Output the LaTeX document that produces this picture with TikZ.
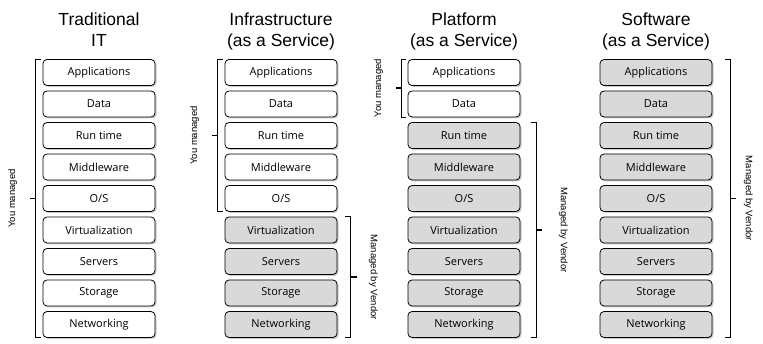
\documentclass[tikz,border=0pt]{standalone}
\usepackage{fontspec}
\setmainfont{Liberation Sans}
\newfontfamily\boxfont{Open Sans}
\usetikzlibrary{shadows,calc}
\definecolor{vgray}{RGB}{217,217,217}
\begin{document}
\begin{tikzpicture}[x=1pt,y=-1pt,
  layer/.style={draw=black, line width=0.8pt, rounded corners=4pt,
    minimum width=112pt, minimum height=26pt, inner sep=0pt,
    font=\boxfont\fontsize{11}{12}\selectfont,
    drop shadow={shadow xshift=1.5pt, shadow yshift=-1.5pt, opacity=0.4}},
  own/.style={layer, fill=white},
  vend/.style={layer, fill=vgray},
  ttl/.style={font=\fontsize{17.5}{21}\selectfont, anchor=base, inner sep=0pt},
  side/.style={font=\fontsize{9.5}{11}\selectfont, inner sep=0pt},
  brk/.style={line width=0.8pt},
  tick/.style={line width=1.5pt}]
\useasboundingbox[fill=white] (0,0) rectangle (763,344);

\foreach \c/\cx/\thr in {1/99/10,2/281/6,3/464/3,4/656/1}{
  \foreach \r/\txt in {1/Applications,2/Data,3/Run time,4/Middleware,5/{O/S},6/Virtualization,7/Servers,8/Storage,9/Networking}{
    \ifnum\r<\thr\relax \def\st{own}\else\def\st{vend}\fi
    \node[\st] (c\c r\r) at (\cx, {72.5+31.5*(\r-1)}) {\txt};
  }
}

% titles
\node[ttl] (t1a) at (99,26) {Traditional};
\node[ttl] (t1b) at (99,46.5) {IT};
\node[ttl] (t2a) at (281,26) {Infrastructure};
\node[ttl] (t2b) at (281,46.5) {(as a Service)};
\node[ttl] (t3a) at (464,26) {Platform};
\node[ttl] (t3b) at (464,46.5) {(as a Service)};
\node[ttl] (t4a) at (656,26) {Software};
\node[ttl] (t4b) at (656,46.5) {(as a Service)};

% column 1 bracket
\draw[brk] ([xshift=-2pt]c1r1.north west) -- ++(-5,0) |- ([xshift=-2pt]c1r9.south west);
\draw[tick] ([xshift=-7pt]c1r5.west) -- ++(-6,0);
\node[side, rotate=90] (l1) at ([xshift=-30pt]c1r5.west) {You managed};

% column 2 brackets
\draw[brk] ([xshift=-2pt]c2r1.north west) -- ++(-5,0) |- ([xshift=-2pt]c2r5.south west);
\draw[tick] ([xshift=-7pt]c2r3.west) -- ++(-6,0);
\node[side, rotate=90] (l2) at ([xshift=-30pt]c2r3.west) {You managed};
\draw[brk] ([xshift=8pt]c2r6.north east) -- ++(5,0) |- ([xshift=8pt]c2r9.south east);
\draw[tick] ($(c2r6.north east)!0.5!(c2r9.south east)+(13,0)$) -- ++(7,0);
\node[side, rotate=-90] (v2) at ($(c2r6.north east)!0.5!(c2r9.south east)+(36,0)$) {Managed by Vendor};

% column 3 brackets
\draw[brk] ([xshift=-2pt]c3r1.north west) -- ++(-4,0) |- ([xshift=-2pt]c3r2.south west);
\draw[tick] ($(c3r1.north west)!0.5!(c3r2.south west)+(-6,0)$) -- ++(-6,0);
\node[side, rotate=90] (l3) at ($(c3r1.north west)!0.5!(c3r2.south west)+(-29,0)$) {You managed};
\draw[brk] ([xshift=11pt]c3r3.north east) -- ++(5,0) |- ([xshift=11pt]c3r9.south east);
\draw[tick] ([xshift=16pt]c3r6.east) -- ++(6,0);
\node[side, rotate=-90] (v3) at ([xshift=43pt]c3r6.east) {Managed by Vendor};

% column 4 bracket
\draw[brk] ([xshift=13pt]c4r1.north east) -- ++(5,0) |- ([xshift=13pt]c4r9.south east);
\draw[tick] ([xshift=18pt]c4r5.east) -- ++(6,0);
\node[side, rotate=-90] (v4) at ([xshift=36pt]c4r5.east) {Managed by Vendor};
\end{tikzpicture}
\end{document}
